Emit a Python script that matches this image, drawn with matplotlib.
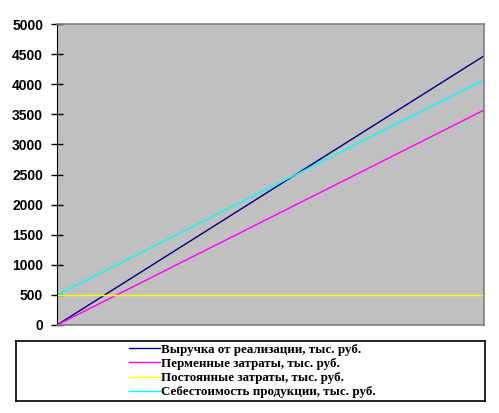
import matplotlib

matplotlib.use("Agg")

import matplotlib.pyplot as plt
from matplotlib.lines import Line2D

# volume points (start / end of the range shown)
volume = [0, 1]

revenue = [0, 4470]
variable_costs = [0, 3570]
fixed_costs = [500, 500]
total_costs = [500, 4070]

labels = [
    "Выручка от реализации, тыс. руб.",
    "Перменные затраты, тыс. руб.",
    "Постоянные затраты, тыс. руб.",
    "Себестоимость продукции, тыс. руб.",
]
colors = ["#000080", "#FF00FF", "#FFFF00", "#00FFFF"]
y_ticks = [0, 500, 1000, 1500, 2000, 2500, 3000, 3500, 4000, 4500, 5000]

W, H = 499, 413
fig = plt.figure(figsize=(W / 100, H / 100), dpi=100)
fig.patch.set_facecolor("white")

ax = fig.add_axes([57 / W, (H - 325) / H, (484 - 57) / W, (325 - 24) / H])
ax.set_facecolor("#C0C0C0")

series = [revenue, variable_costs, fixed_costs, total_costs]
for values, color in zip(series, colors):
    ax.plot(volume, values, color=color, linewidth=1.0)

ax.set_xlim(volume[0], volume[-1])
ax.set_ylim(0, 5000)
ax.set_yticks(y_ticks)
ax.set_xticks([])
ax.tick_params(axis="y", direction="inout", length=9, width=1, pad=5.5)
for lbl in ax.get_yticklabels():
    lbl.set_fontweight("bold")
    lbl.set_fontsize(10)
    lbl.set_family("Liberation Sans")

ax.spines["left"].set_color("black")
for side in ["top", "right", "bottom"]:
    ax.spines[side].set_color("#808080")
    ax.spines[side].set_linewidth(1.2)

# legend box below the plot
leg_ax = fig.add_axes([16 / W, (H - 401) / H, (485 - 16) / W, (401 - 341) / H])
leg_ax.set_xticks([])
leg_ax.set_yticks([])
leg_ax.set_facecolor("white")
for side in leg_ax.spines.values():
    side.set_color("black")
    side.set_linewidth(1.2)

handles = [Line2D([0], [0], color=c, linewidth=1.0) for c in colors]
leg_ax.legend(
    handles,
    labels,
    loc="center",
    bbox_to_anchor=(0.503, 0.5),
    frameon=False,
    handlelength=2.4,
    handletextpad=0.05,
    labelspacing=0.15,
    borderpad=0,
    prop={"family": "Liberation Serif", "weight": "bold", "size": 9.4},
)

fig.savefig("out.png", dpi=100)
